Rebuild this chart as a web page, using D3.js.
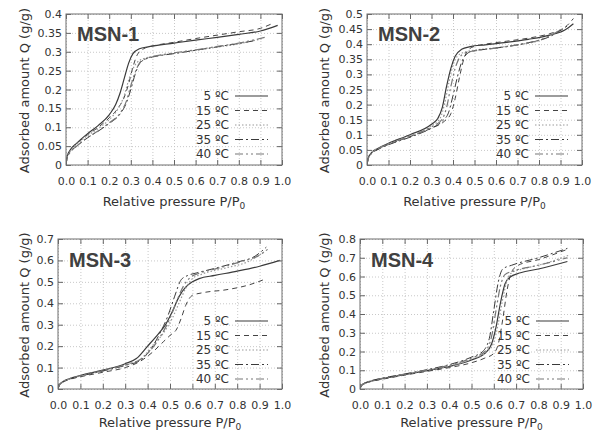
<!DOCTYPE html>
<html>
<head>
<meta charset="utf-8">
<script src="https://cdn.jsdelivr.net/npm/d3@7"></script>
<style>
  body { margin: 0; background: #fff; }
</style>
</head>
<body>
<div id="chart"></div>
<script>
// panel names, y ranges and legend labels
var panelNames = ['MSN-1', 'MSN-2', 'MSN-3', 'MSN-4'];
var yMaxes = [0.4, 0.5, 0.7, 0.8];
var ySteps = [0.05, 0.05, 0.1, 0.1];
var tempLabels = ['5 \u00baC', '15 \u00baC', '25 \u00baC', '35 \u00baC', '40 \u00baC'];

// isotherms, [P/P0, Q]
var msn1_5 = [[0,0],[0.005,0.022],[0.02,0.04],[0.05,0.058],[0.1,0.083],[0.15,0.105],[0.2,0.133],[0.23,0.16],[0.25,0.19],[0.27,0.23],[0.29,0.27],[0.31,0.295],[0.34,0.308],[0.38,0.313],[0.5,0.323],[0.6,0.331],[0.7,0.338],[0.8,0.346],[0.9,0.355],[0.98,0.37]];
var msn1_15 = [[0,0],[0.005,0.02],[0.02,0.038],[0.05,0.056],[0.1,0.08],[0.15,0.1],[0.2,0.125],[0.24,0.15],[0.27,0.18],[0.29,0.215],[0.31,0.26],[0.33,0.292],[0.36,0.308],[0.4,0.315],[0.5,0.325],[0.6,0.335],[0.7,0.344],[0.8,0.353],[0.9,0.362],[0.96,0.376]];
var msn1_25 = [[0,0],[0.005,0.02],[0.02,0.037],[0.05,0.055],[0.1,0.078],[0.15,0.097],[0.2,0.12],[0.24,0.148],[0.27,0.185],[0.29,0.225],[0.31,0.255],[0.33,0.272],[0.36,0.282],[0.4,0.287],[0.5,0.296],[0.6,0.304],[0.7,0.312],[0.8,0.321],[0.91,0.335]];
var msn1_35 = [[0,0],[0.005,0.018],[0.02,0.034],[0.05,0.05],[0.1,0.072],[0.15,0.09],[0.2,0.11],[0.25,0.135],[0.28,0.165],[0.3,0.2],[0.32,0.24],[0.34,0.268],[0.37,0.281],[0.4,0.286],[0.5,0.295],[0.6,0.304],[0.7,0.313],[0.8,0.322],[0.88,0.33]];
var msn1_40 = [[0,0],[0.005,0.018],[0.02,0.034],[0.05,0.05],[0.1,0.073],[0.15,0.091],[0.2,0.112],[0.25,0.137],[0.28,0.17],[0.3,0.21],[0.32,0.245],[0.34,0.27],[0.37,0.282],[0.4,0.287],[0.5,0.297],[0.6,0.305],[0.7,0.314],[0.8,0.323],[0.92,0.338]];

var msn2_5 = [[0,0],[0.005,0.022],[0.02,0.04],[0.05,0.055],[0.1,0.072],[0.2,0.1],[0.3,0.135],[0.33,0.155],[0.35,0.19],[0.37,0.26],[0.39,0.32],[0.41,0.36],[0.44,0.383],[0.48,0.392],[0.55,0.398],[0.65,0.406],[0.75,0.416],[0.85,0.43],[0.92,0.447],[0.96,0.468]];
var msn2_15 = [[0,0],[0.005,0.02],[0.02,0.038],[0.05,0.052],[0.1,0.068],[0.2,0.094],[0.3,0.122],[0.36,0.145],[0.39,0.17],[0.41,0.22],[0.43,0.29],[0.45,0.35],[0.47,0.38],[0.5,0.393],[0.55,0.4],[0.65,0.41],[0.75,0.42],[0.85,0.435],[0.92,0.455],[0.96,0.485]];
var msn2_25 = [[0,0],[0.005,0.021],[0.02,0.039],[0.05,0.054],[0.1,0.07],[0.2,0.097],[0.3,0.13],[0.34,0.155],[0.36,0.2],[0.38,0.27],[0.4,0.33],[0.42,0.36],[0.45,0.373],[0.5,0.38],[0.6,0.388],[0.7,0.398],[0.8,0.412],[0.91,0.452]];
var msn2_35 = [[0,0],[0.005,0.019],[0.02,0.037],[0.05,0.051],[0.1,0.067],[0.2,0.092],[0.3,0.122],[0.35,0.145],[0.38,0.175],[0.4,0.23],[0.42,0.29],[0.44,0.34],[0.46,0.365],[0.49,0.377],[0.55,0.383],[0.65,0.392],[0.75,0.405],[0.85,0.425],[0.93,0.46]];
var msn2_40 = [[0,0],[0.005,0.02],[0.02,0.038],[0.05,0.053],[0.1,0.069],[0.2,0.095],[0.3,0.126],[0.35,0.152],[0.37,0.19],[0.39,0.26],[0.41,0.32],[0.43,0.355],[0.46,0.372],[0.5,0.378],[0.6,0.387],[0.7,0.398],[0.8,0.413],[0.92,0.455]];

var msn3_5 = [[0,0],[0.005,0.018],[0.02,0.033],[0.05,0.048],[0.1,0.063],[0.2,0.088],[0.3,0.118],[0.35,0.142],[0.4,0.2],[0.45,0.26],[0.48,0.3],[0.51,0.36],[0.54,0.43],[0.57,0.475],[0.6,0.5],[0.63,0.515],[0.7,0.53],[0.8,0.55],[0.9,0.573],[0.99,0.6]];
var msn3_15 = [[0,0],[0.005,0.016],[0.02,0.03],[0.05,0.044],[0.1,0.057],[0.2,0.078],[0.3,0.1],[0.36,0.125],[0.42,0.17],[0.47,0.22],[0.5,0.25],[0.53,0.28],[0.55,0.33],[0.57,0.39],[0.6,0.437],[0.65,0.45],[0.75,0.463],[0.85,0.485],[0.93,0.515]];
var msn3_25 = [[0,0],[0.005,0.017],[0.02,0.032],[0.05,0.047],[0.1,0.061],[0.2,0.085],[0.3,0.112],[0.37,0.14],[0.42,0.2],[0.47,0.26],[0.51,0.33],[0.54,0.4],[0.57,0.47],[0.6,0.515],[0.64,0.535],[0.75,0.565],[0.85,0.595],[0.92,0.64]];
var msn3_35 = [[0,0],[0.005,0.017],[0.02,0.032],[0.05,0.046],[0.1,0.06],[0.2,0.084],[0.3,0.11],[0.37,0.135],[0.41,0.18],[0.45,0.25],[0.49,0.34],[0.52,0.43],[0.55,0.51],[0.58,0.53],[0.62,0.542],[0.7,0.563],[0.8,0.592],[0.88,0.62],[0.93,0.662]];
var msn3_40 = [[0,0],[0.005,0.017],[0.02,0.032],[0.05,0.047],[0.1,0.062],[0.2,0.086],[0.3,0.113],[0.37,0.14],[0.42,0.19],[0.46,0.25],[0.5,0.33],[0.53,0.41],[0.56,0.48],[0.59,0.52],[0.63,0.54],[0.72,0.565],[0.82,0.595],[0.9,0.625],[0.94,0.655]];

var msn4_5 = [[0,0],[0.005,0.016],[0.02,0.03],[0.05,0.042],[0.1,0.055],[0.2,0.077],[0.3,0.098],[0.4,0.12],[0.5,0.155],[0.56,0.19],[0.59,0.24],[0.61,0.33],[0.63,0.46],[0.65,0.56],[0.67,0.595],[0.72,0.62],[0.8,0.64],[0.93,0.68]];
var msn4_15 = [[0,0],[0.005,0.015],[0.02,0.028],[0.05,0.04],[0.1,0.052],[0.2,0.074],[0.3,0.094],[0.4,0.114],[0.5,0.14],[0.56,0.165],[0.6,0.19],[0.62,0.24],[0.64,0.37],[0.66,0.53],[0.68,0.625],[0.71,0.66],[0.8,0.69],[0.93,0.745]];
var msn4_25 = [[0,0],[0.005,0.016],[0.02,0.03],[0.05,0.042],[0.1,0.056],[0.2,0.078],[0.3,0.1],[0.4,0.123],[0.5,0.16],[0.57,0.2],[0.6,0.25],[0.62,0.35],[0.64,0.48],[0.66,0.58],[0.68,0.62],[0.73,0.64],[0.83,0.67],[0.94,0.715]];
var msn4_35 = [[0,0],[0.005,0.017],[0.02,0.031],[0.05,0.044],[0.1,0.058],[0.2,0.08],[0.3,0.103],[0.4,0.13],[0.5,0.17],[0.55,0.2],[0.58,0.27],[0.6,0.42],[0.62,0.57],[0.64,0.64],[0.68,0.66],[0.8,0.7],[0.93,0.75]];
var msn4_40 = [[0,0],[0.005,0.016],[0.02,0.03],[0.05,0.043],[0.1,0.057],[0.2,0.079],[0.3,0.101],[0.4,0.126],[0.5,0.165],[0.56,0.2],[0.59,0.28],[0.61,0.42],[0.63,0.55],[0.65,0.61],[0.69,0.63],[0.8,0.66],[0.93,0.7]];

var panelSeries = [
  [msn1_5, msn1_15, msn1_25, msn1_35, msn1_40],
  [msn2_5, msn2_15, msn2_25, msn2_35, msn2_40],
  [msn3_5, msn3_15, msn3_25, msn3_35, msn3_40],
  [msn4_5, msn4_15, msn4_25, msn4_35, msn4_40]
];

var width = 596, height = 434;

// plot frames in page pixels
var frames = [
  {x: 66, y: 14, w: 216, h: 151, labelX: 29, titleGap: 41},
  {x: 367, y: 14, w: 215, h: 151, labelX: 329, titleGap: 41},
  {x: 58, y: 239, w: 224, h: 150, labelX: 29, titleGap: 38},
  {x: 360, y: 239, w: 223, h: 150, labelX: 329, titleGap: 38}
];

var lineStyles = [
  {dash: null, color: '#3a3a3a', w: 1.2},
  {dash: '5,4', color: '#444', w: 1},
  {dash: '1.5,2', color: '#9a9a9a', w: 1.2},
  {dash: '8,3,2,3', color: '#3a3a3a', w: 1},
  {dash: '8,3,2,3,2,3', color: '#777', w: 1.2}
];

var svg = d3.select('#chart').append('svg')
  .attr('width', width)
  .attr('height', height)
  .style('font-family', 'DejaVu Sans, sans-serif');

svg.append('rect').attr('width', width).attr('height', height).attr('fill', '#fff');

function drawPanel(p) {
  var f = frames[p];
  var g = svg.append('g').attr('transform', 'translate(' + f.x + ',' + f.y + ')');

  var x = d3.scaleLinear().domain([0, 1]).range([0, f.w]);
  var y = d3.scaleLinear().domain([0, yMaxes[p]]).range([f.h, 0]);

  var nY = Math.round(yMaxes[p] / ySteps[p]);
  var yTicks = d3.range(0, nY + 1).map(function (k) { return +(k * ySteps[p]).toFixed(2); });
  var xTicks = d3.range(0, 11).map(function (k) { return k / 10; });

  // dotted grid
  var grid = g.append('g').attr('class', 'grid');
  grid.append('g')
    .call(d3.axisBottom(x).tickValues(xTicks).tickSize(f.h).tickFormat(''));
  grid.append('g')
    .call(d3.axisRight(y).tickValues(yTicks).tickSize(f.w).tickFormat(''));
  grid.selectAll('.domain').remove();
  grid.selectAll('line')
    .attr('stroke', '#c8c8c8')
    .attr('stroke-width', 1)
    .attr('stroke-dasharray', '1,2');

  // isotherms
  var clipId = 'clip' + p;
  g.append('clipPath').attr('id', clipId)
    .append('rect').attr('width', f.w).attr('height', f.h);

  var line = d3.line()
    .x(function (d) { return x(d[0]); })
    .y(function (d) { return y(d[1]); })
    .curve(d3.curveMonotoneX);

  g.append('g').attr('clip-path', 'url(#' + clipId + ')')
    .selectAll('path')
    .data(panelSeries[p])
    .enter()
    .append('path')
    .attr('d', line)
    .attr('fill', 'none')
    .attr('stroke', function (d, i) { return lineStyles[i].color; })
    .attr('stroke-width', function (d, i) { return lineStyles[i].w; })
    .attr('stroke-dasharray', function (d, i) { return lineStyles[i].dash; });

  // axes with inward ticks on all four sides
  var bottom = g.append('g').attr('transform', 'translate(0,' + f.h + ')')
    .call(d3.axisBottom(x).tickValues(xTicks).tickSizeInner(-5).tickSizeOuter(0)
      .tickPadding(12).tickFormat(d3.format('.1f')));
  var left = g.append('g')
    .call(d3.axisLeft(y).tickValues(yTicks).tickSizeInner(-5).tickSizeOuter(0)
      .tickPadding(4).tickFormat(function (d) { return String(d); }));
  g.append('g')
    .call(d3.axisTop(x).tickValues(xTicks).tickSizeInner(-5).tickSizeOuter(0).tickFormat(''));
  g.append('g').attr('transform', 'translate(' + f.w + ',0)')
    .call(d3.axisRight(y).tickValues(yTicks).tickSizeInner(-5).tickSizeOuter(0).tickFormat(''));

  g.selectAll('.domain').remove();
  g.selectAll('.tick line').filter(function () { return !this.closest('.grid'); })
    .attr('stroke', '#666');
  bottom.selectAll('text').attr('font-size', 11).attr('fill', '#333').attr('font-family', 'DejaVu Sans');
  left.selectAll('text').attr('font-size', 11).attr('fill', '#333').attr('font-family', 'DejaVu Sans');

  // frame
  g.append('rect')
    .attr('width', f.w).attr('height', f.h)
    .attr('fill', 'none').attr('stroke', '#6e6e6e').attr('stroke-width', 1);

  // sample name
  g.append('text')
    .attr('x', 11).attr('y', p < 2 ? 27 : 28)
    .attr('font-family', 'Liberation Sans, Arial, sans-serif')
    .attr('font-weight', 'bold')
    .attr('font-size', 20)
    .attr('fill', '#404040')
    .text(panelNames[p]);

  // legend
  var legend = g.append('g').selectAll('g')
    .data(tempLabels)
    .enter()
    .append('g')
    .attr('transform', function (d, i) { return 'translate(0,' + (82 + i * 14.5) + ')'; });
  legend.append('text')
    .attr('x', f.w - 53).attr('dy', '0.35em')
    .attr('text-anchor', 'end')
    .attr('font-size', 12).attr('fill', '#333')
    .text(function (d) { return d; });
  legend.append('line')
    .attr('x1', f.w - 47).attr('x2', f.w - 14)
    .attr('stroke', function (d, i) { return lineStyles[i].color; })
    .attr('stroke-width', function (d, i) { return lineStyles[i].w; })
    .attr('stroke-dasharray', function (d, i) { return lineStyles[i].dash; });

  // axis titles
  svg.append('text')
    .attr('transform', 'translate(' + f.labelX + ',' + (f.y + f.h / 2 + 1) + ') rotate(-90)')
    .attr('text-anchor', 'middle')
    .attr('font-size', 13).attr('fill', '#333')
    .text('Adsorbed amount Q (g/g)');

  var xt = svg.append('text')
    .attr('x', f.x + f.w / 2).attr('y', f.y + f.h + f.titleGap)
    .attr('text-anchor', 'middle')
    .attr('font-size', 13).attr('fill', '#333');
  xt.append('tspan').text('Relative pressure P/P');
  xt.append('tspan').attr('font-size', 9).attr('dy', 3).text('0');
}

for (var p = 0; p < 4; p++) drawPanel(p);
</script>
</body>
</html>
